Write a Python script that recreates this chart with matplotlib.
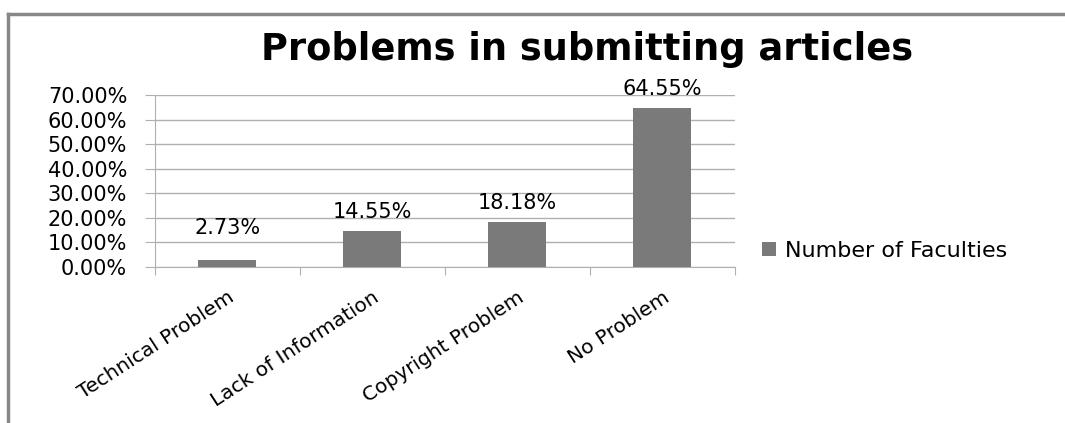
import matplotlib.pyplot as plt
from matplotlib.lines import Line2D
from matplotlib.ticker import FuncFormatter
import numpy as np

categories = ["Technical Problem", "Lack of Information", "Copyright Problem", "No Problem"]
values = [2.73, 14.55, 18.18, 64.55]
series_name = "Number of Faculties"
yticks = [0, 10, 20, 30, 40, 50, 60, 70]

bar_color = "#7a7a7a"
grid_color = "#b0b0b0"
plt.rcParams["font.family"] = ["DejaVu Sans"]

fig = plt.figure(figsize=(10.65, 4.23), dpi=100)
ax = fig.add_axes([0.1455, 0.3688, 0.5445, 0.4066])

x = np.arange(len(categories))
bars = ax.bar(x, values, width=0.4, color=bar_color, label=series_name, zorder=3)

ax.set_xlim(-0.5, len(categories) - 0.5)
ax.set_ylim(0, 70)
ax.set_yticks(yticks)
ax.yaxis.set_major_formatter(FuncFormatter(lambda v, p: f"{v:.2f}%"))
ax.grid(axis="y", color=grid_color, linewidth=1, zorder=0)

# category ticks sit on the boundaries between bars
ax.set_xticks(np.arange(len(categories) + 1) - 0.5)
ax.set_xticklabels([])
ax.set_xticks(x, minor=True)
ax.set_xticklabels(categories, minor=True, rotation=33, ha="right",
                   rotation_mode="anchor", fontsize=14.5)
ax.tick_params(axis="x", which="minor", length=0, pad=15)
ax.tick_params(axis="x", which="major", length=6, color=grid_color)
ax.tick_params(axis="y", length=7, color=grid_color, labelsize=15, pad=13)

for side in ["top", "right"]:
    ax.spines[side].set_visible(False)
for side in ["left", "bottom"]:
    ax.spines[side].set_color(grid_color)

# value labels above the bars (the small first one sits a little higher)
label_offsets = [16, 7, 7, 7]
for b, v, off in zip(bars, values, label_offsets):
    ax.annotate(f"{v:.2f}%", (b.get_x() + b.get_width() / 2, v),
                xytext=(0, off), textcoords="offset points",
                ha="center", va="bottom", fontsize=15)

fig.text(0.551, 0.882, "Problems in submitting articles", ha="center", va="center",
         fontsize=26.5, fontweight="bold")

fig.legend(loc="center left", bbox_to_anchor=(0.697, 0.407), frameon=False,
           handlelength=0.6, handleheight=0.6, handletextpad=0.4,
           prop={"size": 16})

# chart frame: top and left edges only
fig.add_artist(Line2D([0.0075, 0.0075], [0, 0.967], color="#888888", linewidth=2.5))
fig.add_artist(Line2D([0.0075, 1.0], [0.967, 0.967], color="#888888", linewidth=2.5))

fig.savefig("out.png", dpi=100)
